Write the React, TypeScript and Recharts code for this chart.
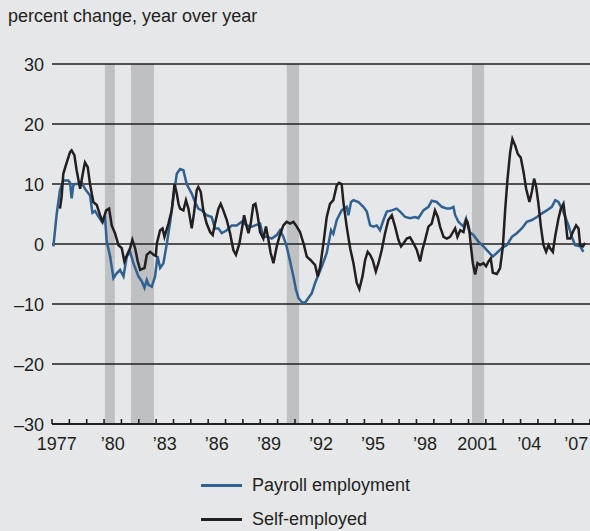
import React from 'react';
import { LineChart, Line, XAxis, YAxis, ReferenceArea, ReferenceLine } from 'recharts';

// [year, percent change]
const payrollSeries: [number, number][] = [
  [1977.08, -0.4], [1977.27, 5], [1977.46, 9], [1977.65, 10.6], [1977.94, 10.6], [1978.04, 10.2],
  [1978.13, 7.6], [1978.23, 9.8], [1978.33, 10], [1978.52, 10], [1978.71, 10.3], [1978.9, 9.2],
  [1979.19, 8.1], [1979.33, 5.2], [1979.48, 5.5], [1979.67, 4.6], [1979.87, 3.7], [1980.06, 4.3],
  [1980.15, 0.5], [1980.35, -2.1], [1980.54, -5.7], [1980.73, -4.9], [1980.92, -4.3], [1981.12, -5.4],
  [1981.31, -2.1], [1981.5, -1.3], [1981.69, -3.2], [1981.98, -5.4], [1982.17, -6.2], [1982.33, -7.3],
  [1982.46, -6], [1982.56, -6.8], [1982.75, -7.1], [1982.94, -5.4], [1983.08, -2], [1983.23, -4],
  [1983.42, -3.2], [1983.62, 0.1], [1983.81, 3.7], [1984.0, 7.8], [1984.19, 11.7], [1984.38, 12.5],
  [1984.57, 12.3], [1984.76, 10], [1985.05, 8.4], [1985.24, 7], [1985.43, 5.9], [1985.63, 5.6],
  [1985.91, 4.8], [1986.2, 4.5], [1986.39, 2.6], [1986.59, 2.6], [1986.78, 1.8], [1987.07, 2.3],
  [1987.36, 3.1], [1987.64, 3.1], [1987.93, 3.7], [1988.22, 3.1], [1988.51, 2.9], [1988.7, 3.1],
  [1988.99, 3.4], [1989.18, 1.2], [1989.41, 1.2], [1989.66, 0.9], [1989.95, 1.5], [1990.14, 2.3],
  [1990.33, 1.2], [1990.52, -0.4], [1990.72, -2.9], [1990.91, -5.4], [1991.06, -7.6], [1991.2, -9],
  [1991.39, -9.7], [1991.58, -9.8], [1991.77, -9], [1991.97, -8.2], [1992.16, -6.5], [1992.54, -3.8],
  [1992.83, -1.5], [1993.08, 2.3], [1993.21, 1.7], [1993.41, 4], [1993.69, 5.6], [1993.98, 6.2],
  [1994.08, 4.8], [1994.23, 7], [1994.37, 7.3], [1994.66, 7], [1994.94, 6.2], [1995.14, 5.4],
  [1995.33, 3.1], [1995.52, 2.9], [1995.71, 3.1], [1995.9, 2.3], [1996.1, 4], [1996.29, 5.4],
  [1996.58, 5.6], [1996.86, 5.9], [1997.06, 5.4], [1997.35, 4.5], [1997.63, 4.3], [1997.92, 4.5],
  [1998.11, 4.3], [1998.4, 5.6], [1998.69, 6.2], [1998.88, 7.2], [1999.17, 7], [1999.46, 6.2],
  [1999.75, 5.9], [1999.94, 5.9], [2000.13, 6.2], [2000.23, 4.8], [2000.42, 3.7], [2000.71, 2.9],
  [2000.86, 4.2], [2001.05, 2], [2001.28, 1.5], [2001.57, 0.4], [2001.86, -0.4], [2002.15, -1.3],
  [2002.4, -2.1], [2002.63, -1.5], [2002.92, -0.7], [2003.21, -0.2], [2003.5, 1.2], [2003.78, 1.8],
  [2004.07, 2.6], [2004.36, 3.7], [2004.65, 4], [2004.94, 4.5], [2005.23, 5.1], [2005.51, 5.6],
  [2005.8, 6.2], [2006.0, 7.3], [2006.18, 7], [2006.47, 5.3], [2006.76, 3.1], [2006.95, 1.2],
  [2007.14, -0.2], [2007.43, -0.4], [2007.62, -1.3],
];

const selfEmployedSeries: [number, number][] = [
  [1977.46, 5.9], [1977.56, 8], [1977.65, 11.7], [1977.85, 13.6], [1978.04, 15.3], [1978.13, 15.6],
  [1978.29, 14.8], [1978.42, 12.3], [1978.62, 9.2], [1978.81, 12.3], [1978.9, 13.6], [1979.06, 12.8],
  [1979.19, 10], [1979.38, 7], [1979.58, 6.5], [1979.77, 4.8], [1979.92, 3.7], [1980.12, 5.6],
  [1980.29, 5.9], [1980.44, 3.1], [1980.63, 1.8], [1980.83, -0.2], [1981.02, -0.7], [1981.17, -2.9],
  [1981.37, -1.5], [1981.5, -0.7], [1981.63, 0.7], [1981.79, -0.7], [1981.94, -2.9], [1982.08, -4.3],
  [1982.33, -4], [1982.46, -1.8], [1982.65, -1.3], [1982.85, -1.8], [1982.98, -2], [1983.04, 0.1],
  [1983.23, 2.3], [1983.37, 2.6], [1983.48, 1.2], [1983.71, 3.4], [1983.9, 5.6], [1984.06, 10],
  [1984.19, 8.4], [1984.29, 6.7], [1984.38, 5.9], [1984.57, 5.6], [1984.72, 7.3], [1984.86, 5.9],
  [1985.05, 2.6], [1985.18, 5.1], [1985.34, 9], [1985.43, 9.5], [1985.57, 8.7], [1985.72, 5.6],
  [1985.91, 3.4], [1986.11, 2], [1986.26, 1.5], [1986.39, 3.4], [1986.59, 5.9], [1986.72, 6.7],
  [1986.87, 5.6], [1987.07, 4], [1987.26, 1.8], [1987.45, -1], [1987.6, -1.8], [1987.8, 0.1],
  [1987.93, 2.3], [1988.07, 4.8], [1988.22, 2.9], [1988.32, 1.8], [1988.45, 3.4], [1988.6, 6.5],
  [1988.72, 6.7], [1988.83, 5.1], [1988.99, 2], [1989.18, 0.9], [1989.33, 2.9], [1989.47, 0.7],
  [1989.6, -1.5], [1989.76, -3.2], [1989.95, -0.4], [1990.1, 1.2], [1990.33, 3.1], [1990.52, 3.7],
  [1990.72, 3.4], [1990.91, 3.7], [1991.06, 3.1], [1991.29, 2], [1991.52, -0.2], [1991.68, -2.1],
  [1991.91, -2.7], [1992.06, -3.2], [1992.16, -3.5], [1992.31, -5.4], [1992.45, -3.8], [1992.64, 0.1],
  [1992.83, 4.5], [1993.02, 6.7], [1993.21, 7.3], [1993.41, 9.8], [1993.54, 10.2], [1993.69, 10],
  [1993.79, 7], [1993.98, 2.9], [1994.18, -0.7], [1994.37, -3.2], [1994.56, -6.5], [1994.71, -7.5],
  [1994.89, -5.4], [1995.04, -2.7], [1995.19, -1.3], [1995.33, -1.8], [1995.48, -2.7], [1995.66, -4.6],
  [1995.81, -3.2], [1996.0, -1], [1996.19, 1.8], [1996.38, 4], [1996.58, 4.8], [1996.77, 2.9],
  [1996.96, 0.7], [1997.11, -0.4], [1997.25, 0.1], [1997.44, 0.9], [1997.63, 1.1], [1997.83, 0.1],
  [1998.02, -1], [1998.21, -2.9], [1998.34, -1], [1998.5, 0.7], [1998.69, 2.9], [1998.88, 3.4],
  [1999.07, 5.6], [1999.23, 4.5], [1999.36, 2.9], [1999.56, 1.2], [1999.75, 0.9], [1999.94, 1.2],
  [2000.23, 2.6], [2000.36, 1.2], [2000.52, 2.3], [2000.71, 2], [2000.86, 4], [2000.94, 3.7],
  [2001.05, 2.3], [2001.13, -0.2], [2001.25, -3.2], [2001.38, -5.1], [2001.52, -3.2], [2001.67, -3.5],
  [2001.86, -3.2], [2002.01, -3.7], [2002.15, -2.9], [2002.28, -2.4], [2002.4, -4.8], [2002.63, -5],
  [2002.82, -4], [2002.98, -0.4], [2003.11, 5.6], [2003.24, 10.6], [2003.4, 15.3], [2003.53, 17.5],
  [2003.69, 16.4], [2003.84, 15], [2004.01, 14.4], [2004.17, 12], [2004.32, 9.2], [2004.51, 7],
  [2004.65, 8.7], [2004.78, 10.9], [2004.9, 9.5], [2005.03, 6.7], [2005.17, 2.9], [2005.32, -0.2],
  [2005.47, -1.3], [2005.61, -0.2], [2005.7, -0.7], [2005.86, -1.3], [2005.99, 1.2], [2006.18, 4.2],
  [2006.32, 5.9], [2006.47, 6.7], [2006.57, 4.5], [2006.7, 0.9], [2006.86, 0.9], [2007.01, 2],
  [2007.2, 3.1], [2007.34, 2.6], [2007.43, -0.2], [2007.59, -0.4], [2007.72, 0.2],
];

// shaded recession periods [start, end]
const recessions: [number, number][] = [
  [1980.05, 1980.62], [1981.55, 1982.88], [1990.53, 1991.24], [2001.2, 2001.9],
];

const yTicks = [-30, -20, -10, 0, 10, 20, 30];
const yTickLabels = ['\u201330', '\u201320', '\u201310', '0', '10', '20', '30'];
const xLabelYears = [1977, 1980, 1983, 1986, 1989, 1992, 1995, 1998, 2001, 2004, 2007];
const xLabels = ['1977', '\u201980', '\u201983', '\u201986', '\u201989', '\u201992', '\u201995', '\u201998', '2001', '\u201904', '\u201907'];

const FONT = '"Liberation Sans", Arial, Helvetica, sans-serif';
const INK = '#231f20';
const BLUE = '#2f6193';
const BG = '#e6e7e9';
const SHADE = '#bfc0c2';
const FS = 18;

const payrollData = payrollSeries.map(([t, v]) => ({ t, v }));
const selfData = selfEmployedSeries.map(([t, v]) => ({ t, v }));

const yearTicks = Array.from({ length: 32 }, (_, i) => 1977 + i);
const xTicks = [...yearTicks, ...xLabelYears.map(y => y + 0.5)];

const XTick = (props: any) => {
  const { x, y, payload } = props;
  const value = payload.value as number;
  if (Number.isInteger(value)) {
    return <line x1={x} x2={x} y1={y} y2={y - 5} stroke={INK} strokeWidth={1.6} />;
  }
  const idx = xLabelYears.indexOf(value - 0.5);
  // first and last labels nudged inward so they stay on the page
  const nudge = idx === 0 ? -4 : idx === xLabels.length - 1 ? -5 : 0;
  return (
    <text x={x + nudge} y={y + 26} textAnchor="middle" fontSize={FS} fontFamily={FONT} fill={INK}>
      {xLabels[idx]}
    </text>
  );
};

const YTick = (props: any) => {
  const { x, y, payload } = props;
  const idx = yTicks.indexOf(payload.value);
  return (
    <text x={x} y={y + 6.5} textAnchor="end" fontSize={FS} fontFamily={FONT} fill={INK}>
      {yTickLabels[idx]}
    </text>
  );
};

export default function App() {
  return (
    <div style={{ position: 'fixed', left: 0, top: 0, width: 590, height: 531, background: BG, fontFamily: FONT, color: INK, overflow: 'hidden' }}>
      <div style={{ position: 'absolute', left: 8, top: 6, fontSize: FS, whiteSpace: 'nowrap' }}>percent change, year over year</div>
      <div style={{ position: 'absolute', left: 0, top: 0 }}>
        <LineChart width={590} height={470} margin={{ top: 64, right: 0, bottom: 16, left: 0 }}>
          <XAxis
            dataKey="t"
            type="number"
            domain={[1977, 2008]}
            ticks={xTicks}
            interval={0}
            allowDataOverflow
            axisLine={false}
            tickLine={false}
            tickSize={0}
            tickMargin={0}
            height={30}
            tick={(p: any) => <XTick {...p} />}
          />
          <YAxis
            type="number"
            domain={[-30, 30]}
            ticks={yTicks}
            interval={0}
            allowDataOverflow
            axisLine={false}
            tickLine={false}
            tickSize={0}
            tickMargin={8}
            width={52}
            tick={(p: any) => <YTick {...p} />}
          />
          {recessions.map(([a, b], i) => (
            <ReferenceArea key={`r-${i}`} x1={a} x2={b} y1={-30} y2={30} fill={SHADE} fillOpacity={1} stroke="none" />
          ))}
          {yTicks.map(v => (
            <ReferenceLine key={`g-${v}`} y={v} stroke={INK} strokeWidth={v === -30 ? 2 : 1.4} />
          ))}
          <Line data={payrollData} dataKey="v" type="linear" stroke={BLUE} strokeWidth={2.5} dot={false} isAnimationActive={false} />
          <Line data={selfData} dataKey="v" type="linear" stroke={INK} strokeWidth={2.5} dot={false} isAnimationActive={false} />
        </LineChart>
      </div>
      <div style={{ position: 'absolute', left: 201, top: 474, fontSize: FS }}>
        <div style={{ display: 'flex', alignItems: 'center', height: 22, whiteSpace: 'nowrap' }}>
          <span style={{ display: 'inline-block', width: 41, height: 3, background: BLUE, marginRight: 10 }} />
          Payroll employment
        </div>
        <div style={{ display: 'flex', alignItems: 'center', height: 22, marginTop: 12, whiteSpace: 'nowrap' }}>
          <span style={{ display: 'inline-block', width: 41, height: 3, background: INK, marginRight: 10 }} />
          Self-employed
        </div>
      </div>
    </div>
  );
}
